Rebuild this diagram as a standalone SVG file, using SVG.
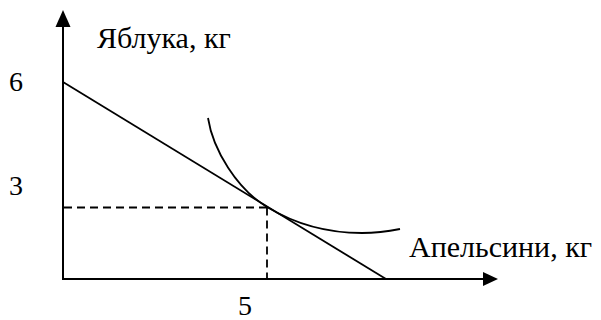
<svg xmlns="http://www.w3.org/2000/svg" width="601" height="320" viewBox="0 0 601 320">
<style>
.ax{stroke:#000;stroke-width:2;fill:none}
.ln{stroke:#000;stroke-width:1.8;fill:none}
.dash{stroke:#000;stroke-width:1.8;fill:none;stroke-dasharray:8,5}
.t{font-family:"Liberation Serif","Times New Roman",serif;font-size:30px;fill:#000}
.n{font-family:"Liberation Serif","Times New Roman",serif;font-size:28px;fill:#000}
</style>
<rect width="601" height="320" fill="#fff"/>
<g id="axes">
<line class="ax" x1="63" y1="279" x2="63" y2="24"/>
<polygon points="63,10 55.5,27 70.5,27" fill="#000"/>
<line class="ax" x1="62" y1="279" x2="486" y2="279"/>
<polygon points="498,279 483,272 483,286" fill="#000"/>
</g>
<g id="connectors">
<line id="budget" class="ln" x1="63" y1="82" x2="386" y2="279"/>
<path id="indiff" class="ln" d="M208,118 C213,150 237,189 267,207 C300,227 335,233 362,233 C378,233 390,231 400,229"/>
<line class="dash" x1="64" y1="207.5" x2="267" y2="207.5"/>
<line class="dash" x1="267" y1="207.5" x2="267" y2="278"/>
</g>
<g id="labels">
<text class="t" x="97" y="48">Яблука, кг</text>
<text class="t" x="409" y="257">Апельсини, кг</text>
<text class="n" x="9" y="91">6</text>
<text class="n" x="9" y="195">3</text>
<text class="n" x="238" y="315">5</text>
</g>
</svg>
